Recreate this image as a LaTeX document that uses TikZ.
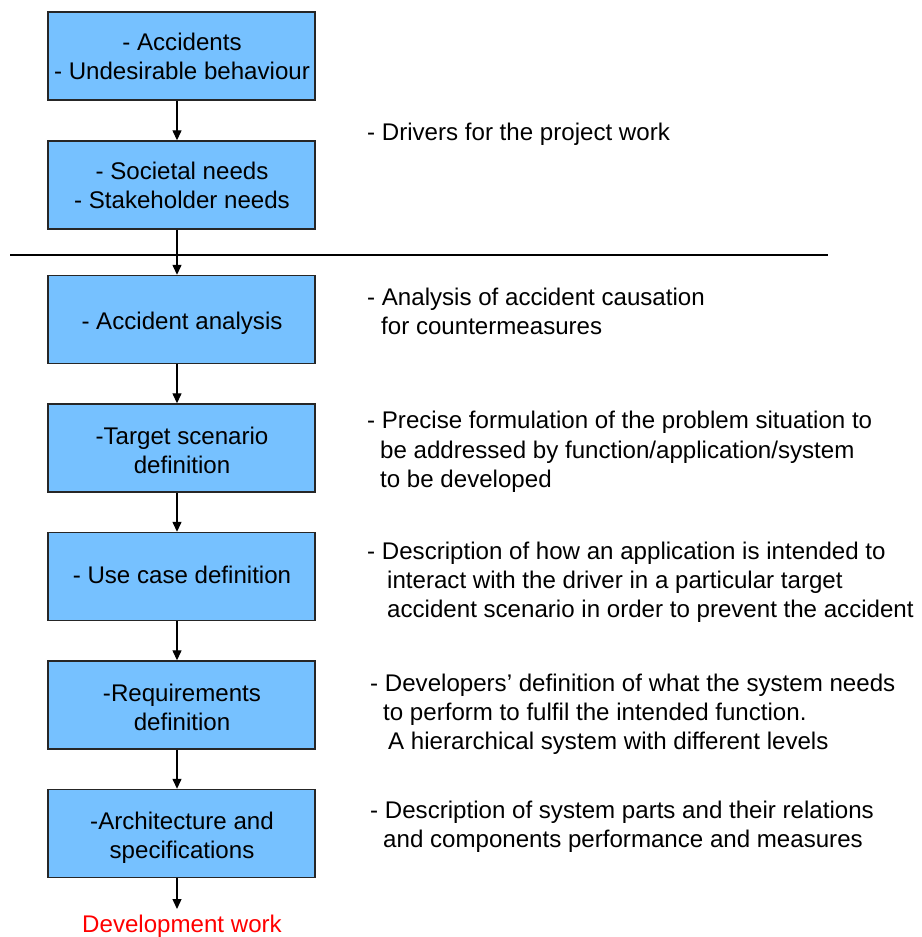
\documentclass[tikz,border=0pt]{standalone}
\usepackage{fontspec}
\setmainfont{Liberation Sans}
\usetikzlibrary{arrows.meta}
\definecolor{boxblue}{RGB}{118,193,255}
\definecolor{devred}{RGB}{255,0,0}
\newcommand{\bodysize}{\fontsize{24.1}{29}\selectfont}
\tikzset{
  stagebox/.style={draw=black!85, line width=1.4pt, fill=boxblue,
    minimum width=267pt, minimum height=88pt, align=center,
    inner sep=0pt, font=\bodysize},
  flow/.style={line width=1.3pt, -{Triangle[width=9pt,length=10pt]}},
  note/.style={anchor=base west, inner sep=0pt, font=\bodysize},
  boxtext/.style={align=center, inner sep=0pt, font=\bodysize},
}
\begin{document}
\begin{tikzpicture}[x=1pt,y=-1pt]
\useasboundingbox (0,0) rectangle (921,937);

% stage boxes
\node[stagebox] (b1) at (181.5,56)  {};
\node[stagebox] (b2) at (181.5,185) {};
\node[stagebox] (b3) at (181.5,319.5) {};
\node[stagebox] (b4) at (181.5,448) {};
\node[stagebox] (b5) at (181.5,576.5) {};
\node[stagebox] (b6) at (181.5,705) {};
\node[stagebox] (b7) at (181.5,833.5) {};

% box labels
\node[boxtext] (t1) at (182,56)  {- Accidents\\- Undesirable behaviour};
\node[boxtext] (t2) at (182,185.5) {- Societal needs\\- Stakeholder needs};
\node[boxtext] (t3) at (182,323) {- Accident analysis};
\node[boxtext] (t4) at (182,450) {-Target scenario\\definition};
\node[boxtext] (t5) at (182,574.5) {- Use case definition};
\node[boxtext] (t6) at (182,707) {-Requirements\\definition};
\node[boxtext] (t7) at (182,838) {-Architecture and\\specifications};
\node[boxtext, text=devred] (dev) at (182,926) {Development work};

% separator between drivers and analysis chain
\coordinate (sepL) at (10,255);
\coordinate (sepR) at (828,255);
\draw[line width=1.2pt] (sepL) -- (sepR);

% connectors
\draw[flow] (b1.south -| 177,0) -- (b2.north -| 177,0);
\draw[flow] (b2.south -| 177,0) -- (b3.north -| 177,0);
\draw[flow] (b3.south -| 177,0) -- (b4.north -| 177,0);
\draw[flow] (b4.south -| 177,0) -- (b5.north -| 177,0);
\draw[flow] (b5.south -| 177,0) -- (b6.north -| 177,0);
\draw[flow] (b6.south -| 177,0) -- (b7.north -| 177,0);
\draw[flow] (b7.south -| 177,0) -- (177,909);

% descriptions
\node[note] (d1)  at (367,140) {- Drivers for the project work};
\node[note] (d2a) at (367,305) {- Analysis of accident causation};
\node[note] (d2b) at (381,334) {for countermeasures};
\node[note] (d3a) at (367,428) {- Precise formulation of the problem situation to};
\node[note] (d3b) at (380,458) {be addressed by function/application/system};
\node[note] (d3c) at (380,487) {to be developed};
\node[note] (d4a) at (367,559) {- Description of how an application is intended to};
\node[note] (d4b) at (387,588) {interact with the driver in a particular target};
\node[note] (d4c) at (387,617) {accident scenario in order to prevent the accident};
\node[note] (d5a) at (370,691) {- Developers’ definition of what the system needs};
\node[note] (d5b) at (383,720) {to perform to fulfil the intended function.};
\node[note] (d5c) at (388,749) {A hierarchical system with different levels};
\node[note] (d6a) at (370,818) {- Description of system parts and their relations};
\node[note] (d6b) at (383,847) {and components performance and measures};
\end{tikzpicture}
\end{document}
